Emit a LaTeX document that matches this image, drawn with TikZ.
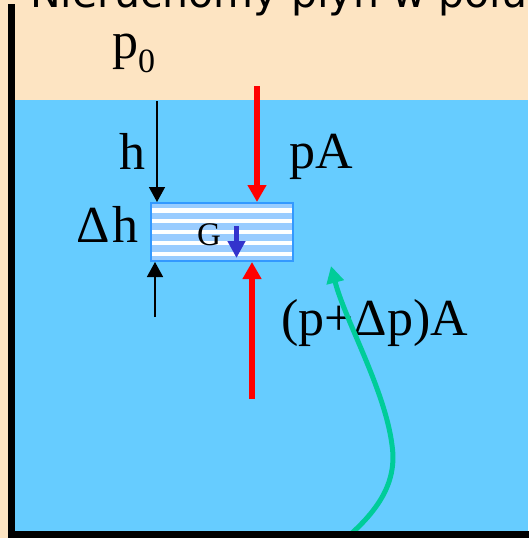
\documentclass[tikz,border=0pt]{standalone}
\usepackage{fontspec}
\setmainfont{Liberation Serif}
\newfontfamily\titlefont{DejaVu Sans}
\usetikzlibrary{arrows.meta}
\definecolor{beige}{RGB}{253,228,194}
\definecolor{water}{HTML}{66CCFF}
\definecolor{stripe}{HTML}{99CCFF}
\definecolor{boxline}{HTML}{3399FF}
\definecolor{gblue}{HTML}{3333CC}
\definecolor{flow}{HTML}{00CC99}
\begin{document}
\begin{tikzpicture}[x=1pt,y=-1pt,
  lbl/.style={inner sep=0pt, anchor=base west, font=\fontsize{52}{60}\selectfont},
  blackarrow/.style={black, line width=1.5pt, -{Triangle[length=15pt,width=16pt]}},
  redarrow/.style={red, line width=6pt, -{Triangle[length=17pt,width=18pt]}},
  garrow/.style={gblue, line width=5.5pt, -{Triangle[length=17pt,width=17pt]}},
  flowarrow/.style={flow, line width=5pt, -{Triangle[length=17pt,width=17pt]}}]
\useasboundingbox (0,0) rectangle (528,538);
\fill[beige] (0,0) rectangle (528,538);
\fill[water] (15,100) rectangle (528,531);
\node[anchor=base west, inner sep=0pt, font=\titlefont\fontsize{41}{48}\selectfont] (title) at (30,8) {Nieruchomy płyn w polu grawitacyjnym};
% labels
\node[lbl] (p0) at (112,58) {p\raisebox{-14pt}{\fontsize{34}{34}\selectfont 0}};
\node[lbl] (hlab) at (119,169) {h};
\node[lbl] (dh) at (76,242) {Δ\hspace{3pt}h};
\node[lbl] (pA) at (289,168) {pA};
\node[lbl] (ppA) at (281,335) {(p+Δp)A};
% box
\fill[stripe] (151,203) rectangle (293,261);
\foreach \yy in {208.3,219.1,229.9,240.7,251.5}
  \fill[white] (151,\yy) rectangle (293,{\yy+4.3});
\node[draw=boxline, line width=2pt, minimum width=142pt, minimum height=58pt, inner sep=0pt] (box) at (222,232) {};
\node[lbl, font=\fontsize{33}{33}\selectfont] (G) at (197,245) {G};
% arrows
\coordinate (hTop) at (157,101);
\draw[blackarrow] (hTop) -- (hTop |- box.north);
\coordinate (hBot) at (155,317);
\draw[blackarrow] (hBot) -- (hBot |- box.south);
\coordinate (pTop) at (257,86);
\draw[redarrow] (pTop) -- (pTop |- box.north);
\coordinate (pBot) at (252,399);
\draw[redarrow] (pBot) -- (pBot |- box.south);
\coordinate (gTop) at (236.5,226);
\coordinate (gTip) at (236.5,258);
\draw[garrow] (gTop) -- (gTip);
\coordinate (fStart) at (338,545);
\coordinate (fTip) at (331,266);
\draw[flowarrow] (fStart) .. controls (375,515) and (398,485) .. (392,445) .. controls (385,390) and (345,320) .. (fTip);
% walls
\draw[line width=7pt] (11.5,4) -- (11.5,534.5) -- (532,534.5);
\end{tikzpicture}
\end{document}
